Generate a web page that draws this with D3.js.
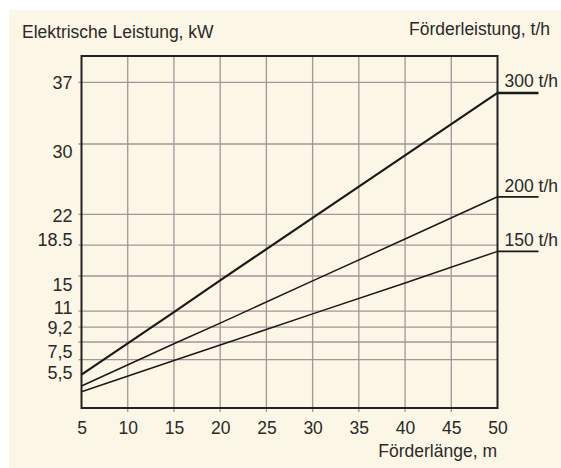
<!DOCTYPE html>
<html>
<head>
<meta charset="utf-8">
<script src="https://cdn.jsdelivr.net/npm/d3@7"></script>
<style>
    body { margin: 0; background: #ffffff; }
    text { fill: #2a2a2a; }
</style>
</head>
<body>
<svg id="chart" width="561" height="468"></svg>
<script>
// conveyor length (m) where the curves were read
var lengths = [5, 15, 20, 30, 40, 50];

// electric power (kW) per throughput
var power300 = [3.8, 10.9, 14.5, 21.6, 28.7, 35.8];
var power200 = [2.5, 7.3, 9.65, 14.45, 19.2, 24.0];
var power150 = [1.85, 5.4, 7.15, 10.7, 14.2, 17.8];

var seriesNames = ["300 t/h", "200 t/h", "150 t/h"];

var xTicks = [5, 10, 15, 20, 25, 30, 35, 40, 45, 50];
var yTicks = [5.5, 7.5, 9.2, 11, 15, 18.5, 22, 30, 37];
var yTickLabels = ["5,5", "7,5", "9,2", "11", "15", "18.5", "22", "30", "37"];

// layout: vertical nudge of the y labels (they dodge each other in the original)
var yLabelShift = [13, 9, 0, -4, 8, -6, 1.5, 7, 0];
var labelDy = [-6, -5, -5];
var lineWidths = [2.2, 1.5, 1.5];

var svg = d3.select("#chart");

svg.append("rect")
    .attr("x", 9).attr("y", 10)
    .attr("width", 552).attr("height", 458)
    .attr("fill", "#fbf6e5");

var x = d3.scaleLinear().domain([5, 50]).range([81.5, 497.5]);
var y = d3.scaleLinear().domain([0, 40]).range([408, 56]);

var grid = svg.append("g")
    .attr("stroke", "#a3959a")
    .attr("stroke-width", 1.3);

// vertical grid, with small ticks under the frame
grid.selectAll("line.v")
    .data(xTicks.slice(1, -1))
    .enter().append("line")
    .attr("class", "v")
    .attr("x1", function (d) { return x(d); })
    .attr("x2", function (d) { return x(d); })
    .attr("y1", y(40))
    .attr("y2", y(0) + 4);

grid.selectAll("line.h")
    .data(yTicks)
    .enter().append("line")
    .attr("class", "h")
    .attr("x1", x(5) - 3)
    .attr("x2", x(50))
    .attr("y1", function (d) { return y(d); })
    .attr("y2", function (d) { return y(d); });

// frame
svg.append("rect")
    .attr("x", x(5)).attr("y", y(40))
    .attr("width", x(50) - x(5)).attr("height", y(0) - y(40))
    .attr("fill", "none")
    .attr("stroke", "#222")
    .attr("stroke-width", 2);

// x axis labels (drawn through d3.axisBottom, domain hidden)
var xAxis = svg.append("g")
    .attr("transform", "translate(0," + y(0) + ")")
    .call(d3.axisBottom(x).tickValues(xTicks).tickSize(0).tickPadding(14).tickFormat(d3.format("d")));
xAxis.select(".domain").remove();
xAxis.selectAll("text")
    .attr("fill", "#2a2a2a")
    .style("font", "17.5px 'Liberation Sans', Arial, sans-serif");

// y axis labels
var yAxis = svg.append("g")
    .attr("transform", "translate(" + x(5) + ",0)")
    .call(d3.axisLeft(y).tickValues(yTicks).tickSize(0).tickPadding(9)
        .tickFormat(function (d, i) { return yTickLabels[i]; }));
yAxis.select(".domain").remove();
yAxis.selectAll("text")
    .attr("fill", "#2a2a2a")
    .attr("dy", function (d, i) { return (yLabelShift[i] + 6) + "px"; })
    .style("font", "18px 'Liberation Sans Narrow', 'Arial Narrow', sans-serif");

var line = d3.line()
    .x(function (d) { return x(d[0]); })
    .y(function (d) { return y(d[1]); });

var allSeries = [power300, power200, power150];

for (var i = 0; i < allSeries.length; i++) {
    var pts = lengths.map(function (l, j) { return [l, allSeries[i][j]]; });
    var last = allSeries[i][allSeries[i].length - 1];

    svg.append("path")
        .datum(pts)
        .attr("fill", "none")
        .attr("stroke", "#1a1a1a")
        .attr("stroke-width", lineWidths[i])
        .attr("d", line);

    // leader line out to the label
    svg.append("line")
        .attr("x1", x(50)).attr("x2", x(50) + 41)
        .attr("y1", y(last)).attr("y2", y(last))
        .attr("stroke", "#1a1a1a")
        .attr("stroke-width", lineWidths[i] + 0.3);

    svg.append("text")
        .attr("x", x(50) + 7)
        .attr("y", y(last) + labelDy[i])
        .style("font", "17.5px 'Liberation Sans', Arial, sans-serif")
        .text(seriesNames[i]);
}

svg.append("text")
    .attr("x", 22).attr("y", 38)
    .style("font", "17.5px 'Liberation Sans', Arial, sans-serif")
    .text("Elektrische Leistung, kW");

svg.append("text")
    .attr("x", 550).attr("y", 35)
    .attr("text-anchor", "end")
    .style("font", "17.5px 'Liberation Sans', Arial, sans-serif")
    .text("Förderleistung, t/h");

svg.append("text")
    .attr("x", 497).attr("y", 457)
    .attr("text-anchor", "end")
    .style("font", "17.5px 'Liberation Sans', Arial, sans-serif")
    .text("Förderlänge, m");
</script>
</body>
</html>
